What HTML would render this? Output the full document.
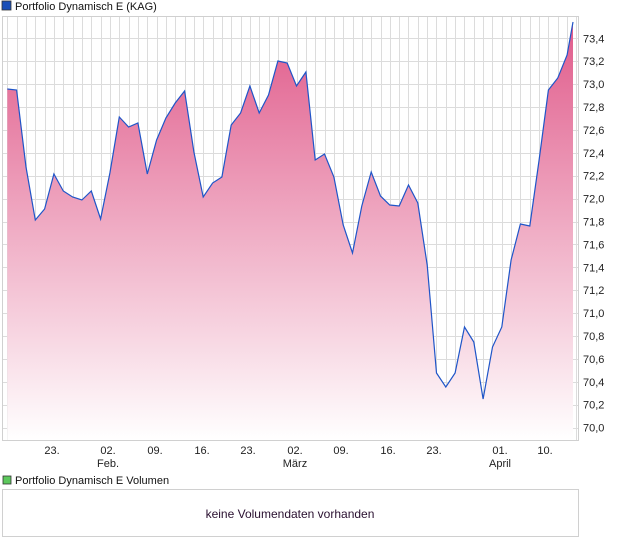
<!DOCTYPE html>
<html><head><meta charset="utf-8"><style>
body{margin:0;background:#fff;width:620px;height:546px;overflow:hidden;font-family:"Liberation Sans",sans-serif;}
</style></head><body>
<svg width="620" height="546" xmlns="http://www.w3.org/2000/svg" font-family="Liberation Sans, sans-serif">
<defs>
<linearGradient id="g" gradientUnits="userSpaceOnUse" x1="0" y1="20" x2="0" y2="440">
<stop offset="0" stop-color="#e05a8a"/><stop offset="1" stop-color="#ffffff"/>
</linearGradient>
</defs>
<rect x="2" y="1" width="9" height="9" fill="#1a4fb8" stroke="#333" stroke-width="0.8"/>
<text x="15" y="10" font-size="11" fill="#111">Portfolio Dynamisch E (KAG)</text>
<g stroke="#dcdcdc" stroke-width="1" id="grid"></g>
<g id="main"></g>
<rect x="2.5" y="16.5" width="576" height="424" fill="none" stroke="#d0d0d0"/>
<g font-size="11" fill="#222" id="ylab"></g>
<g font-size="11" fill="#222" text-anchor="middle">
<text x="52" y="454">23.</text><text x="108" y="454">02.</text><text x="108" y="467">Feb.</text>
<text x="155" y="454">09.</text><text x="202" y="454">16.</text><text x="248" y="454">23.</text>
<text x="295" y="454">02.</text><text x="295" y="467">März</text>
<text x="341" y="454">09.</text><text x="388" y="454">16.</text><text x="434" y="454">23.</text>
<text x="500" y="454">01.</text><text x="500" y="467">April</text><text x="545" y="454">10.</text>
</g>
<rect x="3" y="476" width="8" height="8" fill="#5cc85c" stroke="#333" stroke-width="0.8"/>
<text x="15" y="484" font-size="11" fill="#111">Portfolio Dynamisch E Volumen</text>
<rect x="2.5" y="489.5" width="576" height="47" fill="#fff" stroke="#d0d0d0"/>
<text x="290" y="518" font-size="12" fill="#2a1030" text-anchor="middle">keine Volumendaten vorhanden</text>
</svg>
<script>
var ns="http://www.w3.org/2000/svg";
var g=document.getElementById('grid');
function ln(x1,y1,x2,y2,p,c){var l=document.createElementNS(ns,'line');l.setAttribute('x1',x1);l.setAttribute('y1',y1);l.setAttribute('x2',x2);l.setAttribute('y2',y2);if(c)l.setAttribute('stroke',c);p.appendChild(l);}
for(var i=0;i<62;i++){var x=Math.round(7.3+9.33*i)+0.5;if(x<578)ln(x,17,x,440,g);}
var yl=document.getElementById('ylab');
for(var k=0;k<=18;k++){var v=70+k*0.2;var y=38.3+(73.4-v)*114.5;if(y<17)continue;var yy=Math.round(y)+0.5;ln(3,yy,578,yy,g);
var t=document.createElementNS(ns,'text');t.setAttribute('x',583);t.setAttribute('y',y+4);t.textContent=v.toFixed(1).replace('.',',');yl.appendChild(t);}
var ys=[89,90,167,220,209,174,191,197,200,191,219,173,117,127,123,174,140,118,103,91,152,197,183,177,125,113,86,113,95,61,63,86,72,160,154,177,225,253,206,172,196,205,206,185,203,265,373,387,373,327,342,399,347,327,260,224,226,160,90,78,55,22];
var pts=ys.map(function(y,i){var x=7.3+9.33*i;if(i==61)x=573;return x.toFixed(1)+','+y;});
var m=document.getElementById('main');
var a=document.createElementNS(ns,'polygon');a.setAttribute('points',pts.join(' ')+' 573,440 7.3,440');a.setAttribute('fill','url(#g)');m.appendChild(a);
var p=document.createElementNS(ns,'polyline');p.setAttribute('points',pts.join(' '));p.setAttribute('fill','none');p.setAttribute('stroke','#1f55c8');p.setAttribute('stroke-width','1.2');m.appendChild(p);
</script>
</body></html>
